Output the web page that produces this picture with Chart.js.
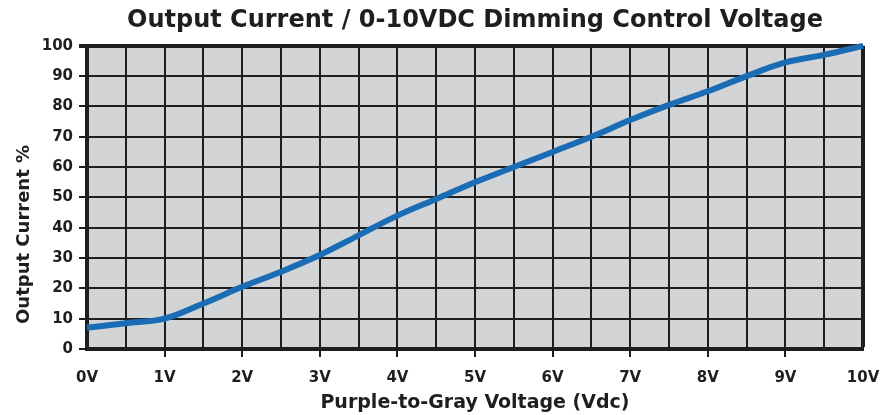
<!DOCTYPE html>
<html lang="en">
<head>
    <meta charset="UTF-8">
    <title>Output Current / 0-10VDC Dimming Control Voltage</title>
    <script src="https://cdn.jsdelivr.net/npm/chart.js"></script>
    <style>
        html, body { margin: 0; padding: 0; background: #ffffff; }
        .chart-box { position: relative; width: 893px; height: 415px; }
    </style>
</head>
<body>
    <div class="chart-box">
        <canvas id="dimChart"></canvas>
    </div>
    <script>
        // voltage points (Vdc) and read-off output current (%)
        const voltages = [0, 0.5, 1, 1.5, 2, 2.5, 3, 3.5, 4, 4.5, 5, 5.5, 6, 6.5, 7, 7.5, 8, 8.5, 9, 9.5, 10];
        const currentPct = [7, 8.5, 10, 15, 20.5, 25.5, 31, 37.5, 44, 49.5, 55, 60, 65, 70, 75.5, 80.5, 85, 90, 94.5, 97, 100];
        const yTicks = [0, 10, 20, 30, 40, 50, 60, 70, 80, 90, 100];

        const FONT = "'DejaVu Sans', 'Liberation Sans', sans-serif";
        const INK = '#1e1e1e';

        // gray fill behind the grid
        const plotBg = {
            id: 'plotBg',
            beforeDraw(chart) {
                const a = chart.chartArea, c = chart.ctx;
                c.save();
                c.fillStyle = '#d3d4d6';
                c.fillRect(a.left, a.top, a.right - a.left, a.bottom - a.top);
                c.restore();
            }
        };

        new Chart(document.getElementById('dimChart'), {
            type: 'line',
            data: {
                datasets: [{
                    data: voltages.map((v, i) => ({ x: v, y: currentPct[i] })),
                    borderColor: '#1a6db5',
                    borderWidth: 6,
                    pointRadius: 0,
                    tension: 0.35,
                    clip: 4
                }]
            },
            options: {
                responsive: true,
                maintainAspectRatio: false,
                animation: false,
                layout: { padding: { left: 0, right: 30, top: 0, bottom: 0 } },
                plugins: {
                    legend: { display: false },
                    tooltip: { enabled: false },
                    title: {
                        display: true,
                        fullSize: false,
                        text: 'Output Current / 0-10VDC Dimming Control Voltage',
                        color: INK,
                        font: { family: FONT, size: 24, weight: 'bold' },
                        padding: { top: 6, bottom: 11 }
                    }
                },
                scales: {
                    x: {
                        type: 'linear',
                        min: 0,
                        max: 10,
                        afterFit(s) { s.height = 66; },
                        ticks: {
                            stepSize: 0.5,
                            autoSkip: false,
                            maxRotation: 0,
                            color: INK,
                            padding: 12,
                            font: { family: FONT, size: 15, weight: 'bold' },
                            callback: v => Number.isInteger(v) ? v + 'V' : ''
                        },
                        grid: {
                            color: INK,
                            lineWidth: c => (c.tick && c.tick.value === 10) ? 4 : 2,
                            tickLength: 8,
                            tickColor: c => (c.tick && Number.isInteger(c.tick.value) && c.tick.value > 0 && c.tick.value < 10) ? INK : 'rgba(0,0,0,0)'
                        },
                        border: { color: INK, width: 4 },
                        title: {
                            display: true,
                            text: 'Purple-to-Gray Voltage (Vdc)',
                            color: INK,
                            font: { family: FONT, size: 19, weight: 'bold' },
                            padding: { top: 0, bottom: 1 }
                        }
                    },
                    y: {
                        min: 0,
                        max: 100,
                        afterFit(s) { s.width = 87; },
                        afterBuildTicks(s) { s.ticks = yTicks.map(v => ({ value: v })); },
                        ticks: {
                            color: INK,
                            padding: 6,
                            font: { family: FONT, size: 15, weight: 'bold' }
                        },
                        grid: {
                            color: INK,
                            lineWidth: c => (c.tick && c.tick.value === 100) ? 4 : 2,
                            tickLength: 8,
                            tickColor: INK
                        },
                        border: { color: INK, width: 4 },
                        title: {
                            display: true,
                            align: 'start',
                            text: '    Output Current %',
                            color: INK,
                            font: { family: FONT, size: 18, weight: 'bold' },
                            padding: { top: 14, bottom: 0 }
                        }
                    }
                }
            },
            plugins: [plotBg]
        });
    </script>
</body>
</html>
